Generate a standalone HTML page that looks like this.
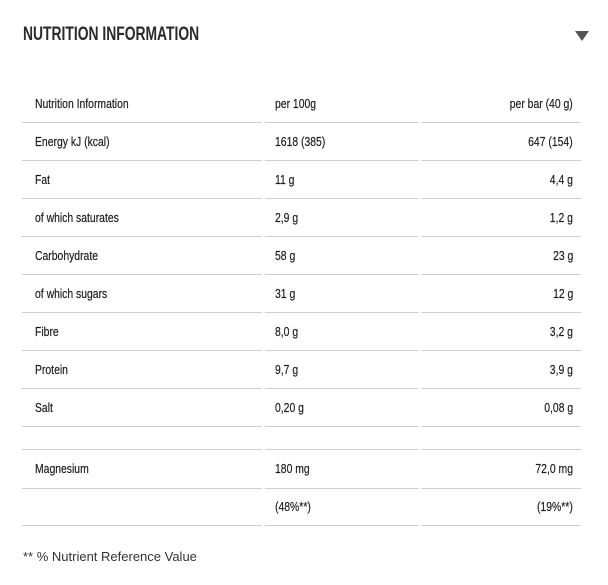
<!DOCTYPE html>
<html><head><meta charset="utf-8"><style>
body{margin:0;width:608px;height:585px;background:#fff;position:relative;overflow:hidden;font-family:"Liberation Sans",sans-serif;color:#222}
.t{position:absolute;font-size:13px;line-height:14px;white-space:nowrap;transform:scaleX(0.8);transform-origin:left center;color:#1e1e1e;-webkit-text-stroke:0.2px #1e1e1e}
.r{transform-origin:right center}
.l{position:absolute;height:1px;background:#cfcfcf}
h1{position:absolute;left:23px;top:24px;margin:0;font-size:19px;font-weight:bold;color:#2a2a2a;line-height:22px;white-space:nowrap;transform:scaleX(0.73);transform-origin:left center}
.tri{position:absolute;left:575px;top:31px;width:0;height:0;border-left:7px solid transparent;border-right:7px solid transparent;border-top:10px solid #555}
.fn{position:absolute;left:23px;top:549px;font-size:13px;color:#333}
</style></head><body>
<h1>NUTRITION INFORMATION</h1>
<div class="tri"></div>
<div id="rows"></div>
<script>
var rows=[["Nutrition Information","per 100g","per bar (40 g)",104,122],
["Energy kJ (kcal)","1618 (385)","647 (154)",142,160],
["Fat","11 g","4,4 g",180,198],
["of which saturates","2,9 g","1,2 g",218,236],
["Carbohydrate","58 g","23 g",256,274],
["of which sugars","31 g","12 g",294,312],
["Fibre","8,0 g","3,2 g",332,350],
["Protein","9,7 g","3,9 g",370,388],
["Salt","0,20 g","0,08 g",408,426],
["","","",null,449],
["Magnesium","180 mg","72,0 mg",469,488],
["","(48%**)","(19%**)",507,525]];
var h="";
rows.forEach(function(r){
 if(r[3]!==null){
  h+='<div class="t" style="left:35px;top:'+(r[3]-7)+'px">'+r[0]+'</div>';
  h+='<div class="t" style="left:275px;top:'+(r[3]-7)+'px">'+r[1]+'</div>';
  h+='<div class="t r" style="right:35px;top:'+(r[3]-7)+'px">'+r[2]+'</div>';
 }
 h+='<div class="l" style="left:22px;width:240px;top:'+r[4]+'px"></div>';
 h+='<div class="l" style="left:265px;width:153px;top:'+r[4]+'px"></div>';
 h+='<div class="l" style="left:421px;width:160px;top:'+r[4]+'px"></div>';
});
document.getElementById("rows").innerHTML=h;
</script>
<div class="fn">** % Nutrient Reference Value</div>
</body></html>
